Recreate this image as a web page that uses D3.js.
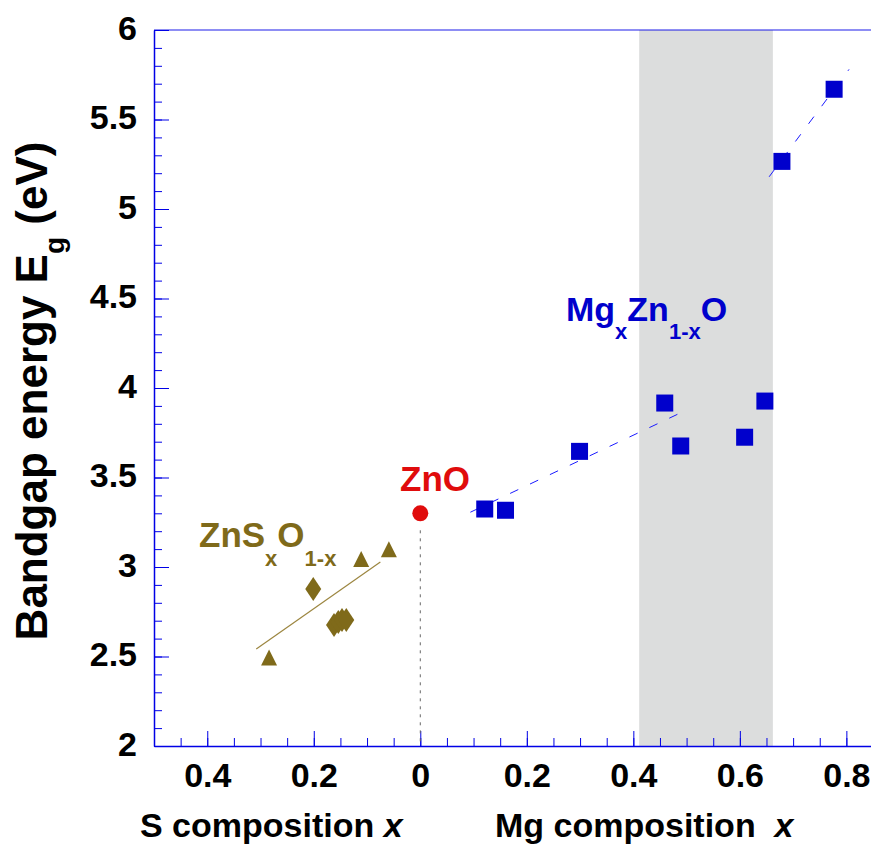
<!DOCTYPE html>
<html>
<head>
<meta charset="utf-8">
<script src="https://cdn.jsdelivr.net/npm/d3@7"></script>
<style>
  body { margin: 0; background: #fff; }
  svg text { font-family: "Liberation Sans", Arial, sans-serif; font-weight: bold; }
</style>
</head>
<body>
<div id="bandgap_chart"></div>
<script>
// Mg composition (right side) and band gap of MgZnO
const mgComposition = [0.121, 0.160, 0.299, 0.459, 0.489, 0.609, 0.647, 0.679, 0.777];
const mgBandgap = [3.324, 3.317, 3.646, 3.916, 3.676, 3.725, 3.927, 5.266, 5.669];

// S composition (left side, drawn as negative x) for ZnSO, triangles and diamonds
const sTriangleComposition = [0.284, 0.111, 0.059];
const sTriangleBandgap = [2.495, 3.045, 3.099];
const sDiamondComposition = [0.201, 0.162, 0.154, 0.147, 0.139];
const sDiamondBandgap = [2.877, 2.676, 2.693, 2.704, 2.704];

// ZnO point
const znoComposition = [0];
const znoBandgap = [3.30];

// dashed fits for MgZnO (two segments) and the ZnSO fit
const mgFitLow = { x: [0.094, 0.485], y: [3.306, 3.856] };
const mgFitHigh = { x: [0.655, 0.805], y: [5.180, 5.780] };
const sFit = { x: [0.308, 0.075], y: [2.542, 3.028] };

// grey band of mixed phase
const bandRange = [0.411, 0.662];

const yMajorTicks = [2, 2.5, 3, 3.5, 4, 4.5, 5, 5.5, 6];
const xMajorTicks = [-0.4, -0.2, 0, 0.2, 0.4, 0.6, 0.8];

const axisColor = "#0000e6";
const olive = "#7f6a1a";
const blue = "#0000cc";
const red = "#e00c0c";

const svg = d3.select("#bandgap_chart")
    .append("svg")
        .attr("width", 871)
        .attr("height", 844);

const xScale = d3.scaleLinear().domain([-0.5, 0.85]).range([154, 873]);
const yScale = d3.scaleLinear().domain([2, 6]).range([746, 30]);

// shaded band
svg.append("rect")
    .attr("x", xScale(bandRange[0]))
    .attr("y", yScale(6))
    .attr("width", xScale(bandRange[1]) - xScale(bandRange[0]))
    .attr("height", yScale(2) - yScale(6))
    .attr("fill", "#dcdddd");

// minor ticks first, then major ticks with labels
const yMinor = d3.range(20, 61).map(i => i / 10);
svg.append("g")
    .attr("transform", "translate(154,0)")
    .call(d3.axisLeft(yScale).tickValues(yMinor).tickSize(-8).tickSizeOuter(0).tickFormat(""))
    .call(g => g.selectAll("line").attr("stroke", axisColor))
    .call(g => g.select(".domain").attr("stroke", axisColor).attr("stroke-width", 1.5));

svg.append("g")
    .attr("transform", "translate(154,0)")
    .call(d3.axisLeft(yScale).tickValues(yMajorTicks).tickSize(-15).tickSizeOuter(0).tickPadding(17)
        .tickFormat(d => String(d)))
    .call(g => g.selectAll("line").attr("stroke", axisColor))
    .call(g => g.select(".domain").remove())
    .call(g => g.selectAll("text")
        .attr("dy", "0.27em")
        .attr("fill", "#000")
        .style("font-size", "34px"));

const xMinor = d3.range(-9, 17).map(i => i * 0.05);
svg.append("g")
    .attr("transform", "translate(0,746)")
    .call(d3.axisBottom(xScale).tickValues(xMinor).tickSize(-8).tickSizeOuter(0).tickFormat(""))
    .call(g => g.selectAll("line").attr("stroke", axisColor))
    .call(g => g.select(".domain").attr("stroke", axisColor).attr("stroke-width", 1.5));

svg.append("g")
    .attr("transform", "translate(0,746)")
    .call(d3.axisBottom(xScale).tickValues(xMajorTicks).tickSize(-15).tickSizeOuter(0).tickPadding(17)
        .tickFormat(d => String(Math.abs(+d.toFixed(1)))))
    .call(g => g.selectAll("line").attr("stroke", axisColor))
    .call(g => g.select(".domain").remove())
    .call(g => g.selectAll("text")
        .attr("fill", "#000")
        .style("font-size", "34px"));

// top frame line
svg.append("line")
    .attr("x1", xScale(-0.5)).attr("x2", xScale(0.85))
    .attr("y1", yScale(6)).attr("y2", yScale(6))
    .attr("stroke", axisColor)
    .attr("stroke-width", 1.5)
    .attr("stroke-opacity", 0.6);

// dotted guide under ZnO
svg.append("line")
    .attr("x1", xScale(0)).attr("x2", xScale(0))
    .attr("y1", yScale(znoBandgap[0]) + 17).attr("y2", yScale(2))
    .attr("stroke", "#666")
    .attr("stroke-width", 1)
    .attr("stroke-dasharray", "3,5");

// fit lines
const lineGen = d3.line().x(d => xScale(d[0])).y(d => yScale(d[1]));
[mgFitLow, mgFitHigh].forEach(fit => {
    svg.append("path")
        .attr("d", lineGen(d3.zip(fit.x, fit.y)))
        .attr("fill", "none")
        .attr("stroke", "#1a1aff")
        .attr("stroke-width", 1)
        .attr("stroke-dasharray", "9,13");
});
svg.append("path")
    .attr("d", lineGen(d3.zip(sFit.x.map(v => -v), sFit.y)))
    .attr("fill", "none")
    .attr("stroke", "#9c8640")
    .attr("stroke-width", 1.2);

// MgZnO squares
svg.selectAll("rect.mg")
    .data(d3.zip(mgComposition, mgBandgap))
    .enter()
    .append("rect")
        .attr("class", "mg")
        .attr("x", d => xScale(d[0]) - 8.5)
        .attr("y", d => yScale(d[1]) - 8.5)
        .attr("width", 17)
        .attr("height", 17)
        .attr("fill", blue);

// ZnSO triangles
svg.selectAll("path.tri")
    .data(d3.zip(sTriangleComposition, sTriangleBandgap))
    .enter()
    .append("path")
        .attr("class", "tri")
        .attr("d", d => {
            const cx = xScale(-d[0]), cy = yScale(d[1]);
            return `M${cx},${cy - 8}L${cx + 8},${cy + 8}L${cx - 8},${cy + 8}Z`;
        })
        .attr("fill", olive);

// ZnSO diamonds
svg.selectAll("path.dia")
    .data(d3.zip(sDiamondComposition, sDiamondBandgap))
    .enter()
    .append("path")
        .attr("class", "dia")
        .attr("d", d => {
            const cx = xScale(-d[0]), cy = yScale(d[1]);
            return `M${cx},${cy - 12}L${cx + 8},${cy}L${cx},${cy + 12}L${cx - 8},${cy}Z`;
        })
        .attr("fill", olive);

// ZnO point
svg.selectAll("circle.zno")
    .data(d3.zip(znoComposition, znoBandgap))
    .enter()
    .append("circle")
        .attr("class", "zno")
        .attr("cx", d => xScale(d[0]))
        .attr("cy", d => yScale(d[1]))
        .attr("r", 8)
        .attr("fill", red);

// labels inside the plot
svg.append("text")
    .attr("x", 400).attr("y", 491)
    .attr("fill", red)
    .style("font-size", "35px")
    .text("ZnO");

const znsLabel = svg.append("text")
    .attr("x", 199).attr("y", 547)
    .attr("fill", olive)
    .style("font-size", "35px");
znsLabel.append("tspan").text("ZnS");
znsLabel.append("tspan").attr("dy", 19).style("font-size", "22px").text("x");
znsLabel.append("tspan").attr("dy", -19).text("O");
znsLabel.append("tspan").attr("dy", 19).style("font-size", "22px").text("1-x");

const mgLabel = svg.append("text")
    .attr("x", 566).attr("y", 321)
    .attr("fill", blue)
    .style("font-size", "34px");
mgLabel.append("tspan").text("Mg");
mgLabel.append("tspan").attr("dy", 18).style("font-size", "22px").text("x");
mgLabel.append("tspan").attr("dy", -18).text("Zn");
mgLabel.append("tspan").attr("dy", 18).style("font-size", "22px").text("1-x");
mgLabel.append("tspan").attr("dy", -18).text("O");

// axis titles
const sTitle = svg.append("text")
    .attr("x", 140).attr("y", 837)
    .style("font-size", "34px");
sTitle.append("tspan").text("S composition ");
sTitle.append("tspan").style("font-style", "italic").text("x");

const mgTitle = svg.append("text")
    .attr("x", 495).attr("y", 837)
    .attr("xml:space", "preserve")
    .style("white-space", "pre")
    .style("font-size", "34px");
mgTitle.append("tspan").text("Mg composition  ");
mgTitle.append("tspan").style("font-style", "italic").text("x");

const yTitle = svg.append("text")
    .attr("transform", "translate(47,391) rotate(-90)")
    .attr("text-anchor", "middle")
    .style("white-space", "pre")
    .style("font-size", "44px");
yTitle.append("tspan").text("Bandgap energy E");
yTitle.append("tspan").attr("dy", 17).style("font-size", "28px").text("g");
yTitle.append("tspan").attr("dy", -17).text(" (eV)");
</script>
</body>
</html>
